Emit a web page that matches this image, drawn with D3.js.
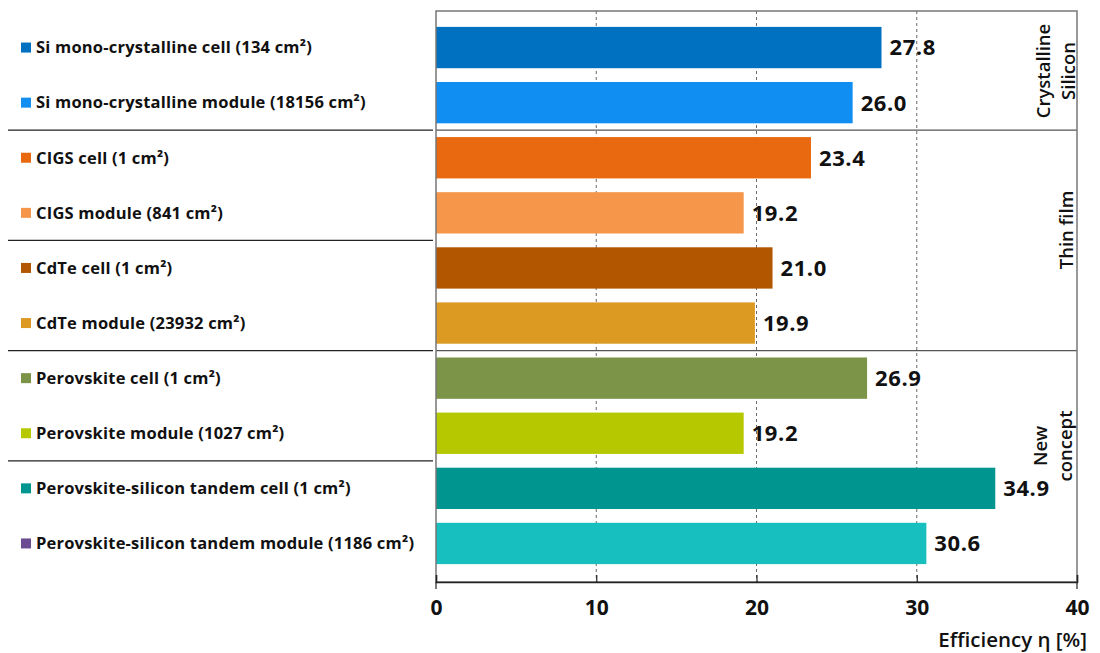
<!DOCTYPE html>
<html>
<head>
<meta charset="utf-8">
<script src="https://cdn.jsdelivr.net/npm/d3@7"></script>
<style>
  body { margin: 0; background: #fff; }
  text { font-family: "Open Sans", sans-serif; }
</style>
</head>
<body>
<svg width="1100" height="653"></svg>
<script>

var labels = [
  "Si mono-crystalline cell (134 cm²)",
  "Si mono-crystalline module (18156 cm²)",
  "CIGS cell (1 cm²)",
  "CIGS module (841 cm²)",
  "CdTe cell (1 cm²)",
  "CdTe module (23932 cm²)",
  "Perovskite cell (1 cm²)",
  "Perovskite module (1027 cm²)",
  "Perovskite-silicon tandem cell (1 cm²)",
  "Perovskite-silicon tandem module (1186 cm²)"
];
var efficiency = [27.8, 26.0, 23.4, 19.2, 21.0, 19.9, 26.9, 19.2, 34.9, 30.6];
var barColors = ["#0070c0", "#118ef2", "#e8690f", "#f5964a", "#b25700", "#dd9a22",
                 "#7b9447", "#b5c800", "#00968f", "#17bfbf"];
// legend swatch of the last entry differs from its bar in the original
var swatchColors = barColors.slice(0, 9).concat(["#6b4c93"]);
var xTicks = [0, 10, 20, 30, 40];
var groups = [
  {name: ["Crystalline", "Silicon"], first: 0, last: 1},
  {name: ["Thin film"], first: 2, last: 5},
  {name: ["New", "concept"], first: 6, last: 9}
];
// separator lines sit between these row pairs
var separators = [2, 4, 6, 8];

var svg = d3.select("svg");
var pLeft = 436, pRight = 1077, pTop = 11, pBottom = 582;

var x = d3.scaleLinear().domain([0, 40]).range([pLeft, pRight]);
var y = d3.scaleBand().domain(d3.range(labels.length))
    .range([20, 571]).paddingInner(0.25).paddingOuter(0.125);

// gridlines
svg.append("g").selectAll("line")
  .data(xTicks.slice(1, -1))
  .enter().append("line")
    .attr("x1", function(d) { return x(d); })
    .attr("x2", function(d) { return x(d); })
    .attr("y1", pTop).attr("y2", pBottom)
    .attr("stroke", "#444").attr("stroke-width", 0.8)
    .attr("stroke-dasharray", "3,3");

// separators
var sepY = function(i) { return (y(i - 1) + y.bandwidth() + y(i)) / 2; };
svg.append("g").selectAll("line")
  .data(separators)
  .enter().append("line")
    .attr("x1", 8).attr("x2", pLeft - 3)
    .attr("y1", sepY).attr("y2", sepY)
    .attr("stroke", "#222").attr("stroke-width", 1.2);
svg.append("g").selectAll("line")
  .data([2, 6])
  .enter().append("line")
    .attr("x1", pLeft).attr("x2", pRight)
    .attr("y1", sepY).attr("y2", sepY)
    .attr("stroke", "#555").attr("stroke-width", 1.2);

// bars
svg.append("g").selectAll("rect")
  .data(efficiency)
  .enter().append("rect")
    .attr("x", x(0))
    .attr("y", function(d, i) { return y(i); })
    .attr("width", function(d) { return x(d) - x(0); })
    .attr("height", y.bandwidth())
    .attr("fill", function(d, i) { return barColors[i]; });

// value labels
svg.append("g").selectAll("text")
  .data(efficiency)
  .enter().append("text")
    .attr("x", function(d) { return x(d) + 8; })
    .attr("y", function(d, i) { return y(i) + y.bandwidth() / 2; })
    .attr("dy", "0.36em")
    .attr("font-size", 22).attr("font-weight", "bold").attr("fill", "#111")
    .attr("letter-spacing", 0.6)
    .text(function(d) { return d.toFixed(1); });

// legend rows on the left
var leg = svg.append("g").selectAll("g")
  .data(labels)
  .enter().append("g")
    .attr("transform", function(d, i) { return "translate(21," + (y(i) + y.bandwidth() / 2) + ")"; });
leg.append("rect")
    .attr("x", 0).attr("y", -5).attr("width", 10).attr("height", 10)
    .attr("fill", function(d, i) { return swatchColors[i]; });
leg.append("text")
    .attr("x", 15).attr("dy", "0.35em")
    .attr("font-size", 16.5).attr("font-weight", "bold").attr("fill", "#111")
    .attr("letter-spacing", 0.2)
    .text(function(d) { return d; });

// frame
svg.append("rect")
    .attr("x", pLeft).attr("y", pTop)
    .attr("width", pRight - pLeft).attr("height", pBottom - pTop)
    .attr("fill", "none").attr("stroke", "#777").attr("stroke-width", 1.5);

// x axis
var axis = svg.append("g")
    .attr("transform", "translate(0," + pBottom + ")")
    .call(d3.axisBottom(x).tickValues(xTicks).tickSize(-7).tickPadding(18));
axis.select(".domain").attr("stroke", "#222").attr("stroke-width", 1.5);
axis.selectAll(".tick line").attr("stroke", "#222").attr("stroke-width", 1.2);
axis.selectAll(".tick text")
    .attr("font-family", "Open Sans, sans-serif")
    .attr("font-size", 21).attr("font-weight", "bold").attr("fill", "#111");
svg.append("g").selectAll("line")
  .data([0, 40])
  .enter().append("line")
    .attr("x1", function(d) { return x(d); }).attr("x2", function(d) { return x(d); })
    .attr("y1", pBottom).attr("y2", pBottom + 7)
    .attr("stroke", "#222").attr("stroke-width", 1.2);

svg.append("text")
    .attr("x", 1087).attr("y", 647)
    .attr("text-anchor", "end")
    .attr("font-size", 20.5).attr("font-weight", 600).attr("fill", "#111")
    .text("Efficiency η [%]");

// group labels, rotated
var groupCenter = [71, 230, 446];
var groupX = [1044, 1067, 1041];
var gl = svg.append("g").selectAll("text")
  .data(groups)
  .enter().append("text")
    .attr("transform", function(d, i) {
      return "translate(" + groupX[i] + "," + groupCenter[i] + ") rotate(-90)";
    })
    .attr("text-anchor", "middle")
    .attr("font-size", 18.5).attr("font-weight", 600).attr("fill", "#111");
gl.selectAll("tspan")
  .data(function(d) { return d.name; })
  .enter().append("tspan")
    .attr("x", 0)
    .attr("dy", function(d, i) { return i === 0 ? "0.35em" : "1.3em"; })
    .text(function(d) { return d; });

</script>
</body>
</html>
